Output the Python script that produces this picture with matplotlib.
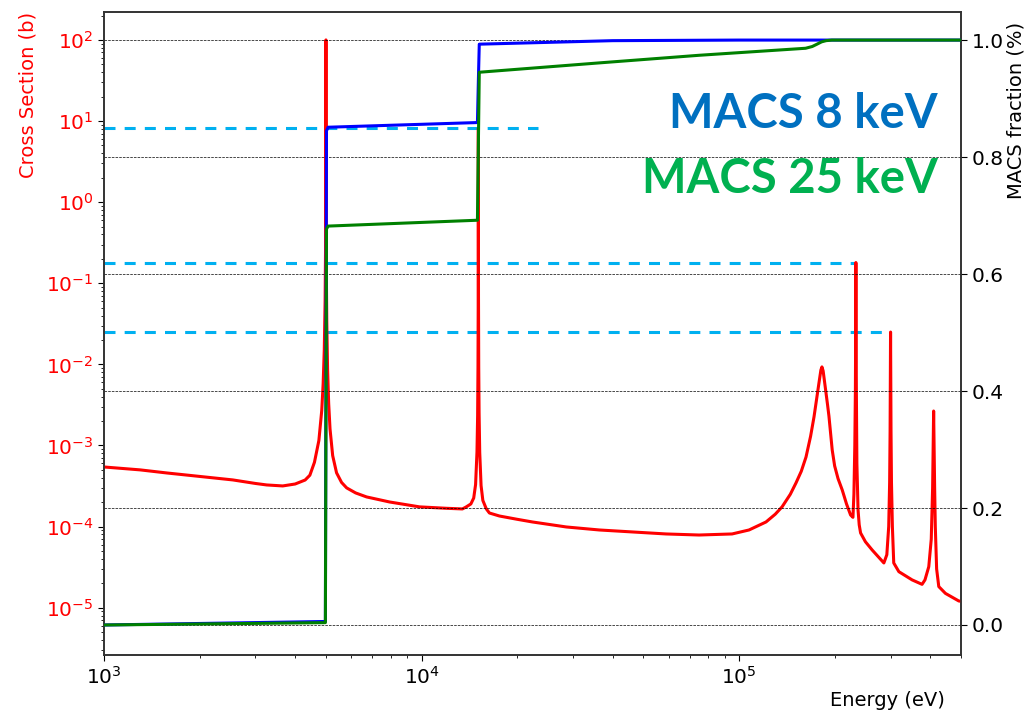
import matplotlib
matplotlib.use("Agg")
import matplotlib.pyplot as plt
from matplotlib.ticker import LogLocator, FixedLocator, NullFormatter

# ---- capture cross section (barn) versus neutron energy (eV) ----
xs_energy = [
    1000, 1300, 1578, 2000, 2545, 3000, 3254, 3655, 4000, 4300, 4450, 4600,
    4750, 4850, 4900, 4940, 4970, 4985, 4993, 4997,
    5000,
    5003, 5007, 5015, 5030, 5060, 5100, 5150, 5250, 5400, 5600, 5810, 6200,
    6714, 7934, 9856, 12000, 13450, 13800, 14300, 14600, 14800, 14950, 15020,
    15060, 15085, 15095,
    15100,
    15105, 15115, 15140, 15180, 15250, 15400, 15600, 16000, 16360, 17590,
    20000, 22340, 28570, 36300, 46080, 58900, 74840, 95070, 107500, 121600,
    130000, 136600, 145000, 151100, 157000, 162500, 168000, 172200, 175000,
    178500, 181000,
    182400,
    184000, 187400, 190000, 191900, 194000, 196500, 200000, 205000, 211300,
    218000, 224500, 228400, 230000, 231500, 232500, 233000,
    233300,
    233600, 234100, 235000, 237000, 239000, 241400, 250000, 262600, 275000,
    285800, 292000, 296000, 298000, 299000,
    300000,
    301000, 302000, 304000, 307000, 318600, 350800, 377000, 385000, 395800,
    403000, 407000, 409000,
    410000,
    411000, 413000, 415000, 419000, 425600, 446700, 492000, 500000]
xs_barn = [
    5.43e-4, 5.0e-4, 4.58e-4, 4.15e-4, 3.76e-4, 3.4e-4, 3.26e-4, 3.17e-4,
    3.35e-4, 3.75e-4, 4.3e-4, 6.2e-4,
    1.15e-3, 2.7e-3, 5.8e-3, 0.015, 0.06, 0.24, 1.1, 6.0,
    100.0,
    3.3, 0.61, 0.133, 0.034, 8.6e-3, 3.3e-3, 1.6e-3, 7.5e-4, 4.6e-4, 3.5e-4,
    3.0e-4, 2.6e-4,
    2.32e-4, 2.01e-4, 1.75e-4, 1.68e-4, 1.65e-4, 1.74e-4, 1.9e-4, 2.25e-4,
    3.3e-4, 8.3e-4, 2.3e-3,
    9.4e-3, 0.067, 0.6,
    8.2,
    0.6, 0.067, 9.4e-3, 2.5e-3, 8.2e-4, 3.2e-4, 2.1e-4, 1.65e-4, 1.47e-4,
    1.35e-4,
    1.23e-4, 1.14e-4, 9.89e-5, 9.08e-5, 8.58e-5, 8.11e-5, 7.87e-5, 8.11e-5,
    9.08e-5, 1.14e-4,
    1.42e-4, 1.75e-4, 2.5e-4, 3.45e-4, 4.8e-4, 7.2e-4, 1.3e-3, 2.25e-3,
    3.5e-3,
    5.9e-3, 8.5e-3,
    9.3e-3,
    8.3e-3, 4.83e-3, 3.16e-3, 2.3e-3, 1.48e-3, 8.8e-4, 5.6e-4, 3.9e-4, 2.83e-4,
    1.9e-4, 1.39e-4, 1.3e-4, 2.5e-4, 1.0e-3, 5.0e-3, 0.03,
    0.18,
    0.03, 5.0e-3, 6.0e-4, 1.6e-4, 1.05e-4, 8.34e-5, 6.5e-5, 5.14e-5, 4.2e-5,
    3.56e-5, 4.5e-5, 1.0e-4, 3.5e-4, 1.5e-3,
    0.025,
    1.5e-3, 3.5e-4, 1.0e-4, 3.56e-5, 2.78e-5, 2.2e-5, 1.94e-5, 2.2e-5, 3.2e-5,
    7.0e-5, 3.0e-4, 1.2e-3,
    2.66e-3,
    1.2e-3, 3.0e-4, 1.0e-4, 3.0e-5, 1.82e-5, 1.5e-5, 1.21e-5, 1.2e-5]

# ---- cumulative MACS fraction for kT = 8 keV ----
macs8_energy = [1000, 4980, 5000, 5020, 5080, 15000, 15100, 15200, 40000,
                100000, 500000]
macs8_frac = [0.0, 0.006, 0.43, 0.845, 0.851, 0.859, 0.93, 0.993, 0.999,
              1.0, 1.0]

# ---- cumulative MACS fraction for kT = 25 keV ----
macs25_energy = [1000, 4980, 5000, 5020, 5080, 15000, 15100, 15200, 36300,
                 74840, 162000, 170000, 176000, 182000, 188000, 196000, 500000]
macs25_frac = [0.0, 0.004, 0.34, 0.677, 0.682, 0.692, 0.82, 0.945, 0.961,
               0.974, 0.986, 0.989, 0.993, 0.997, 0.999, 1.0, 1.0]

# ---- peak-height reference levels (barn) and where each stops (eV) ----
ref_levels = [8.2, 0.18, 0.025]
ref_ends = [23200, 233300, 300000]

x_ticks = [1e3, 1e4, 1e5]
frac_ticks = [0.0, 0.2, 0.4, 0.6, 0.8, 1.0]

TICK_FS = 14.5
LABEL_FS = 14

fig = plt.figure(figsize=(10.31, 7.14), dpi=100)
ax1 = fig.add_axes([104 / 1031, 59 / 714, 857 / 1031, 643 / 714])
ax2 = ax1.twinx()

# cross section on the left axis
ax1.plot(xs_energy, xs_barn, color="red", lw=2.2, solid_joinstyle="round",
         zorder=3)
for lvl, xend in zip(ref_levels, ref_ends):
    ax1.hlines(lvl, 1e3, xend, colors="#00B0F0", lw=2.2,
               linestyles=(0, (3.6, 3.0)), zorder=2)

ax1.set_xscale("log")
ax1.set_yscale("log")
ax1.set_xlim(1e3, 5e5)
ax1.set_ylim(2.61e-6, 221)
ax1.xaxis.set_major_locator(FixedLocator(x_ticks))
ax1.xaxis.set_minor_formatter(NullFormatter())
ax1.yaxis.set_major_locator(LogLocator(base=10, numticks=20))
ax1.yaxis.set_minor_locator(LogLocator(base=10, subs=range(2, 10), numticks=20))
ax1.yaxis.set_minor_formatter(NullFormatter())
ax1.tick_params(axis="y", which="major", labelcolor="red", labelsize=TICK_FS,
                length=4)
ax1.tick_params(axis="x", which="major", labelsize=TICK_FS, length=4)
ax1.set_ylabel("Cross Section (b)", color="red", fontsize=LABEL_FS, loc="top")
ax1.yaxis.set_label_coords(-0.078, 1.0)
ax1.set_xlabel("Energy (eV)", fontsize=LABEL_FS, loc="right")
ax1.xaxis.set_label_coords(0.981, -0.056)

# MACS fractions on the right axis
ax2.plot(macs8_energy, macs8_frac, color="blue", lw=2.2, zorder=3)
ax2.plot(macs25_energy, macs25_frac, color="green", lw=2.2, zorder=4)
ax2.set_ylim(-0.0513, 1.048)
ax2.yaxis.set_major_locator(FixedLocator(frac_ticks))
ax2.set_yticklabels([f"{t:.1f}" for t in frac_ticks])
ax2.tick_params(axis="y", labelsize=TICK_FS, length=4)
ax2.set_ylabel("MACS fraction (%)", fontsize=LABEL_FS, loc="top")
ax2.yaxis.set_label_coords(1.053, 0.985)
ax2.grid(True, axis="y", color="black", linestyle="--", lw=0.5)

for ax in (ax1, ax2):
    for sp in ax.spines.values():
        sp.set_color("#333333")
        sp.set_linewidth(1.2)

fig.text(938 / 1031, 1 - 128 / 714, "MACS 8 keV", color="#0070C0",
         fontsize=34, fontweight="bold", family="Lato", ha="right",
         va="baseline")
fig.text(938 / 1031, 1 - 193 / 714, "MACS 25 keV", color="#00B050",
         fontsize=34, fontweight="bold", family="Lato", ha="right",
         va="baseline")

fig.savefig("out.png", dpi=100)
